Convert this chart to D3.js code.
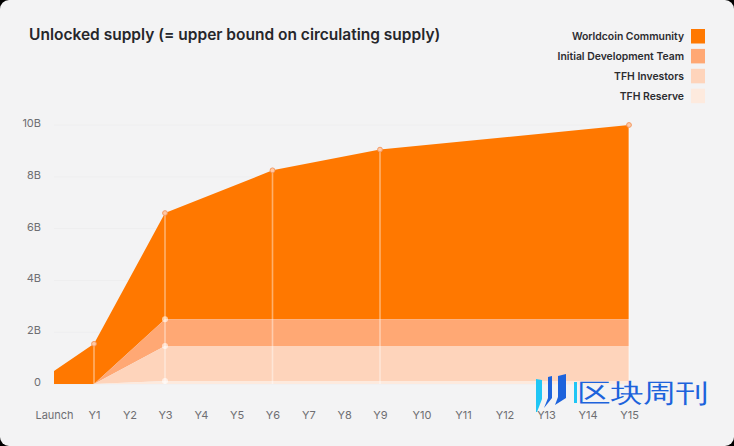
<!DOCTYPE html>
<html><head><meta charset="utf-8">
<script src="https://cdn.jsdelivr.net/npm/d3@7/dist/d3.min.js"></script>
<style>
html,body{margin:0;padding:0;background:#000;overflow:hidden}
svg{display:block}
text{font-family:Inter,"Noto Sans",sans-serif}
</style></head><body><svg id="c" width="734" height="446"></svg>
<script>
const title = "Unlocked supply (= upper bound on circulating supply)";
const years = [0, 1, 3, 6, 9, 15];
const worldcoin = [0.5, 1.55, 4.1, 5.75, 6.55, 7.5];
const team = [0, 0, 1.03, 1.03, 1.03, 1.03];
const investors = [0, 0, 1.35, 1.35, 1.35, 1.35];
const reserve = [0, 0, 0.12, 0.12, 0.12, 0.12];
const seriesNames = ["TFH Reserve", "TFH Investors", "Initial Development Team", "Worldcoin Community"];
const seriesColors = ["#fdeade", "#fed4bb", "#ffa874", "#ff7800"];
const legendOrder = ["Worldcoin Community", "Initial Development Team", "TFH Investors", "TFH Reserve"];
const yTicks = [0, 2, 4, 6, 8, 10];
const yTickLabels = ["0", "2B", "4B", "6B", "8B", "10B"];
const xTicks = [0,1,2,3,4,5,6,7,8,9,10,11,12,13,14,15];
const xTickLabels = ["Launch","Y1","Y2","Y3","Y4","Y5","Y6","Y7","Y8","Y9","Y10","Y11","Y12","Y13","Y14","Y15"];

const svg = d3.select("#c");
svg.append("rect").attr("width",734).attr("height",446).attr("rx",9).attr("fill","#f3f3f4");

const x = d3.scaleLinear().domain([0,1,3,9,15]).range([54,94,165,380,629]);
const y = d3.scaleLinear().domain([0,10]).range([384,125]);

const rows = years.map((t,i)=>({t,"TFH Reserve":reserve[i],"TFH Investors":investors[i],"Initial Development Team":team[i],"Worldcoin Community":worldcoin[i]}));
const stacked = d3.stack().keys(seriesNames)(rows);
const color = d3.scaleOrdinal(seriesNames, seriesColors);

svg.append("g").selectAll("line").data(yTicks).join("line")
  .attr("x1",54).attr("x2",629).attr("y1",d=>y(d)).attr("y2",d=>y(d))
  .attr("stroke","#eeeeef").attr("stroke-width",1);

const area = d3.area().x(d=>x(d.data.t)).y0(d=>y(d[0])).y1(d=>y(d[1]));
svg.append("g").selectAll("path").data(stacked.slice().reverse()).join("path")
  .attr("d",area).attr("fill",d=>color(d.key));

const totals = stacked[3];
svg.append("g").selectAll("line").data(totals.filter((d,i)=>i>0)).join("line")
  .attr("x1",d=>x(d.data.t)).attr("x2",d=>x(d.data.t))
  .attr("y1",d=>y(d[1])).attr("y2",y(0))
  .attr("stroke","#ffffff").attr("stroke-opacity",0.42).attr("stroke-width",1.6);

svg.append("g").selectAll("circle").data(totals.filter((d,i)=>i>0)).join("circle")
  .attr("cx",d=>x(d.data.t)).attr("cy",d=>y(d[1])).attr("r",2.4)
  .attr("fill","#ffc9a6").attr("stroke","#f39a63").attr("stroke-width",1);

const y3 = years.indexOf(3);
svg.append("g").selectAll("circle").data(stacked.slice(0,3)).join("circle")
  .attr("cx",x(3)).attr("cy",d=>y(d[y3][1])).attr("r",3)
  .attr("fill","#fff").attr("fill-opacity",0.6);

const yAxis = d3.axisLeft(y).tickValues(yTicks).tickFormat((d,i)=>yTickLabels[i]).tickSize(0).tickPadding(0);
const gy = svg.append("g").attr("transform","translate(41,-2)").call(yAxis);
gy.select(".domain").remove();
gy.selectAll("text").attr("font-size",11).attr("fill","#6e6e72").attr("font-family","Inter,sans-serif");

const xAxis = d3.axisBottom(x).tickValues(xTicks).tickFormat((d,i)=>xTickLabels[i]).tickSize(0).tickPadding(0);
const gx = svg.append("g").attr("transform","translate(0,411)").call(xAxis);
gx.select(".domain").remove();
gx.selectAll("text").attr("font-size",11).attr("fill","#6e6e72").attr("font-family","Inter,sans-serif");

svg.append("text").attr("x",29).attr("y",40).attr("font-size",15.5).attr("font-weight",600).attr("fill","#26262a").text(title);

const lg = svg.append("g").selectAll("g").data(legendOrder).join("g")
  .attr("transform",(d,i)=>`translate(0,${36+i*19.9})`);
lg.append("text").attr("x",684).attr("y",4).attr("text-anchor","end")
  .attr("font-size",10.4).attr("font-weight",600).attr("fill","#2c2c30").text(d=>d);
lg.append("rect").attr("x",691).attr("y",-7).attr("width",14).attr("height",14.5).attr("fill",d=>color(d));

const wm = svg.append("g");
wm.append("path").attr("d","M536 379L542 380L542 399L537 412L536 412Z").attr("fill","#1fc6f5");
wm.append("path").attr("d","M548 377L552 376L552 398L544 408L548 398Z").attr("fill","#1d63dc");
wm.append("path").attr("d","M558 376L566 374L566 398L555 405L558 397Z").attr("fill","#1d63dc");
wm.append("rect").attr("x",574).attr("y",382).attr("width",3).attr("height",21).attr("fill","#1fc6f5");
wm.append("text").attr("x",578).attr("y",402).attr("font-size",26).attr("font-weight",500)
  .attr("font-family","'Noto Sans CJK SC'").attr("fill","#1d63dc")
  .attr("textLength",130).attr("lengthAdjust","spacingAndGlyphs").text("区块周刊");
</script></body></html>
